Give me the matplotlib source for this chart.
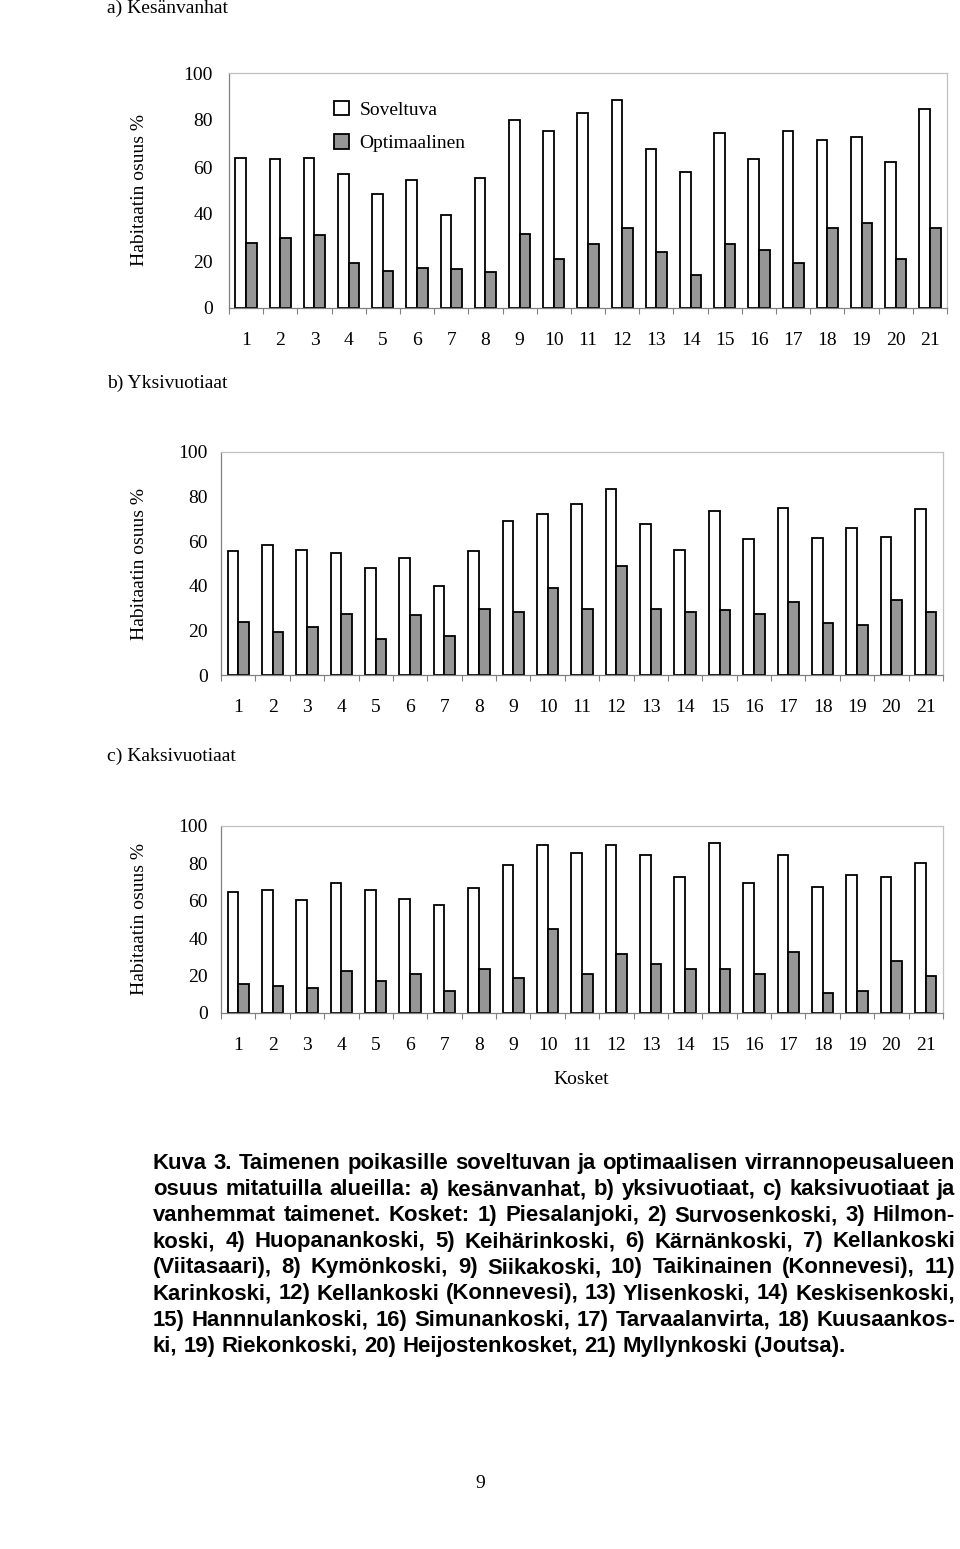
import matplotlib
matplotlib.use("Agg")
import matplotlib.pyplot as plt
import numpy as np

# Kosket 1..21
kosket = [str(i) for i in range(1, 22)]

# a) Kesänvanhat
soveltuva_a = [63.8, 63.4, 63.8, 57.0, 48.4, 54.6, 39.6, 55.3, 80.1, 75.3, 82.8,
               88.4, 67.7, 57.7, 74.6, 63.4, 75.3, 71.5, 72.8, 62.1, 84.7]
optimaalinen_a = [27.8, 29.6, 30.9, 19.0, 15.9, 17.2, 16.5, 15.3, 31.6, 20.9, 27.2,
                  34.0, 24.0, 14.0, 27.2, 24.7, 19.0, 34.0, 36.0, 20.9, 34.0]

# b) Yksivuotiaat
soveltuva_b = [55.4, 58.4, 56.1, 54.6, 47.9, 52.4, 39.7, 55.4, 69.0, 72.0, 76.6,
               83.4, 67.5, 56.1, 73.5, 60.8, 75.0, 61.5, 66.0, 62.1, 74.4]
optimaalinen_b = [23.7, 19.2, 21.4, 27.5, 16.2, 26.8, 17.7, 29.6, 28.1, 38.8, 29.6,
                  48.7, 29.6, 28.1, 29.0, 27.5, 32.8, 23.1, 22.3, 33.5, 28.3]

# c) Kaksivuotiaat
soveltuva_c = [64.9, 65.6, 60.2, 69.3, 65.6, 61.1, 57.6, 66.7, 79.3, 90.0, 85.4,
               90.0, 84.7, 72.9, 90.9, 69.3, 84.7, 67.6, 73.8, 72.9, 80.2]
optimaalinen_c = [15.5, 14.4, 13.5, 22.5, 17.1, 20.7, 11.8, 23.4, 18.9, 45.1, 20.7,
                  31.6, 26.2, 23.5, 23.5, 20.7, 32.4, 10.9, 11.8, 28.0, 19.8]

caption_lines = [
    "Kuva 3. Taimenen poikasille soveltuvan ja optimaalisen virrannopeusalueen",
    "osuus mitatuilla alueilla: a) kesänvanhat, b) yksivuotiaat, c) kaksivuotiaat ja",
    "vanhemmat taimenet. Kosket: 1) Piesalanjoki, 2) Survosenkoski, 3) Hilmon-",
    "koski, 4) Huopanankoski, 5) Keihärinkoski, 6) Kärnänkoski, 7) Kellankoski",
    "(Viitasaari), 8) Kymönkoski, 9) Siikakoski, 10) Taikinainen (Konnevesi), 11)",
    "Karinkoski, 12) Kellankoski (Konnevesi), 13) Ylisenkoski, 14) Keskisenkoski,",
    "15) Hannnulankoski, 16) Simunankoski, 17) Tarvaalanvirta, 18) Kuusaankos-",
    "ki, 19) Riekonkoski, 20) Heijostenkosket, 21) Myllynkoski (Joutsa).",
]

plt.rcParams["font.family"] = ["Liberation Serif", "DejaVu Serif"]

W, H = 960, 1549
fig = plt.figure(figsize=(W / 100, H / 100), dpi=100)


def px_axes(left, top, right, bottom):
    return fig.add_axes([left / W, 1 - bottom / H, (right - left) / W, (bottom - top) / H])


def draw_panel(ax, sov, opt, ypad, ylab_x):
    x = np.arange(1, 22)
    w = 0.31
    ax.bar(x - w / 2, sov, w, color="white", edgecolor="black", linewidth=1.3,
           label="Soveltuva")
    ax.bar(x + w / 2, opt, w, color="#969696", edgecolor="black", linewidth=1.3,
           label="Optimaalinen")
    ax.set_xlim(0.5, 21.5)
    ax.set_ylim(0, 100)
    ax.set_yticks(range(0, 101, 20))
    ax.set_xticks(x)
    ax.set_xticklabels(kosket)
    ax.set_xticks(np.arange(0.5, 22), minor=True)
    ax.tick_params(axis="x", which="major", length=0, pad=17.5, labelsize=14)
    ax.tick_params(axis="x", which="minor", length=4, width=0.8, color="#808080",
                   direction="out")
    ax.tick_params(axis="y", length=0, pad=ypad, labelsize=14)
    for s in ["top", "right"]:
        ax.spines[s].set_color("#c0c0c0")
    for s in ["left", "bottom"]:
        ax.spines[s].set_color("#808080")
    for s in ax.spines.values():
        s.set_linewidth(0.9)
    ax.set_ylabel("Habitaatin osuus %", fontsize=14)
    ax.yaxis.set_label_coords(ylab_x, 0.5)


ax_a = px_axes(229, 73, 947, 308)
draw_panel(ax_a, soveltuva_a, optimaalinen_a, 11.5, (148 - 229) / 718)
ax_a.legend(loc="upper left", bbox_to_anchor=((334 - 229) / 718, (308 - 101) / 235),
            frameon=False, fontsize=14, handlelength=0.75, handleheight=0.75,
            handletextpad=0.55, labelspacing=0.8, borderaxespad=0, borderpad=0)

ax_b = px_axes(221, 452, 943, 675)
draw_panel(ax_b, soveltuva_b, optimaalinen_b, 9.5, (148 - 221) / 722)

ax_c = px_axes(221, 826, 943, 1013)
draw_panel(ax_c, soveltuva_c, optimaalinen_c, 9.5, (148 - 221) / 722)

fig.text(107 / W, 1 - 8 / H, "a) Kesänvanhat", fontsize=14, va="center", ha="left")
fig.text(107 / W, 1 - 383 / H, "b) Yksivuotiaat", fontsize=14, va="center", ha="left")
fig.text(107 / W, 1 - 756 / H, "c) Kaksivuotiaat", fontsize=14, va="center", ha="left")
fig.text(581 / W, 1 - 1080 / H, "Kosket", fontsize=14, va="center", ha="center")
fig.text(480 / W, 1 - 1484 / H, "9", fontsize=14, va="center", ha="center")

# caption, bold and justified word by word
cap_family = ["Liberation Sans", "DejaVu Sans"]
renderer = fig.canvas.get_renderer()
x0, x1 = 153, 955

# pick the font size so the tightest justified line still has normal word gaps
base = 10.0
ratios = []
for line in caption_lines[:-1]:
    words = line.split(" ")
    tot = 0
    for wd in words:
        t = fig.text(0, 0, wd, fontsize=base, fontweight="bold", family=cap_family)
        tot += t.get_window_extent(renderer).width
        t.remove()
    space = base * 0.28 * 100 / 72
    ratios.append((x1 - x0) / (tot + space * (len(words) - 1)))
cap_size = min(base * min(ratios), 16.5)

for i, line in enumerate(caption_lines):
    y = 1 - (1169 + i * 26.1) / H
    words = line.split(" ")
    texts = [fig.text(0, y, wd, fontsize=cap_size, fontweight="bold",
                      family=cap_family, va="baseline", ha="left")
             for wd in words]
    widths = [t.get_window_extent(renderer).width for t in texts]
    if i < len(caption_lines) - 1:
        gap = (x1 - x0 - sum(widths)) / (len(words) - 1)
    else:
        gap = cap_size * 0.28 * 100 / 72
    xp = x0
    for t, wd in zip(texts, widths):
        t.set_x(xp / W)
        xp += wd + gap

fig.savefig("out.png", dpi=100)
